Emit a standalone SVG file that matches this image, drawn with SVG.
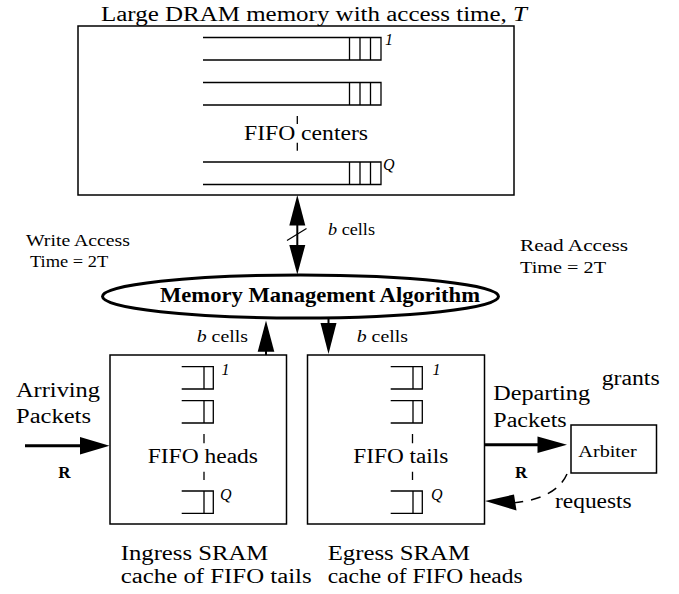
<svg xmlns="http://www.w3.org/2000/svg" width="679" height="594" viewBox="0 0 679 594" font-family="'Liberation Serif', 'Times New Roman', serif">
  <defs>
    <style>
      .box { fill: none; stroke: #000; stroke-width: 1.5; }
      .q { fill: none; stroke: #000; stroke-width: 1.3; }
      .thick { fill: none; stroke: #000; stroke-width: 3; }
      .shaft { fill: none; stroke: #000; stroke-width: 2; }
      .head { fill: #000; stroke: none; }
      .dash { fill: none; stroke: #000; stroke-width: 1.5; stroke-dasharray: 10 8; }
      .lbl { font-size: 20px; }
      .small { font-size: 16.5px; }
      .idx { font-size: 16px; font-style: italic; }
      .bold { font-weight: bold; }
    </style>
    <!-- long DRAM queue: open on the left, three cells at the head -->
    <path id="queue-long" class="q" d="M0,0H178V22.5H0 M146.5,0V22.5 M157,0V22.5 M167.5,0V22.5"/>
    <!-- short SRAM queue: one cell -->
    <path id="queue-short" class="q" d="M0,0H31.6V22.3H0 M22.3,0V22.3"/>
  </defs>

  <rect width="679" height="594" fill="#fff"/>

  <!-- DRAM -->
  <g id="dram">
    <text x="101" y="21" class="lbl" textLength="426" lengthAdjust="spacingAndGlyphs">Large DRAM memory with access time, <tspan font-style="italic">T</tspan></text>
    <rect x="78" y="26" width="436" height="169" class="box" stroke-width="1.4"/>
    <use href="#queue-long" x="203" y="37.5"/>
    <use href="#queue-long" x="203" y="82.5"/>
    <use href="#queue-long" x="203" y="162"/>
    <text x="385" y="45" class="idx">1</text>
    <text x="383" y="170" class="idx">Q</text>
    <path class="q" d="M297.3,116V124 M297.3,142.7V150.7"/>
    <text x="244" y="140" class="lbl" textLength="124" lengthAdjust="spacingAndGlyphs">FIFO centers</text>
  </g>

  <!-- Memory management algorithm -->
  <g id="mma">
    <ellipse cx="300.5" cy="296.5" rx="198" ry="21.5" class="thick"/>
    <text x="160" y="302" class="bold" font-size="22" textLength="320" lengthAdjust="spacingAndGlyphs">Memory Management Algorithm</text>
  </g>

  <!-- Ingress SRAM -->
  <g id="ingress">
    <rect x="110" y="355" width="176.5" height="169" class="box"/>
    <use href="#queue-short" x="181.7" y="366.7"/>
    <use href="#queue-short" x="181.7" y="400.7"/>
    <use href="#queue-short" x="181.7" y="491"/>
    <text x="221.5" y="375" class="idx">1</text>
    <text x="220" y="500" class="idx">Q</text>
    <path class="q" d="M204,434V443.3 M204,471.7V480"/>
    <text x="147.7" y="462.7" class="lbl" textLength="110.3" lengthAdjust="spacingAndGlyphs">FIFO heads</text>
    <text x="120.7" y="560" class="lbl" font-size="21" textLength="147.6" lengthAdjust="spacingAndGlyphs">Ingress SRAM</text>
    <text x="120.7" y="583.3" class="lbl" font-size="21" textLength="191" lengthAdjust="spacingAndGlyphs">cache of FIFO tails</text>
  </g>

  <!-- Egress SRAM -->
  <g id="egress">
    <rect x="307.5" y="355" width="177" height="169" class="box"/>
    <use href="#queue-short" x="390.7" y="366.7"/>
    <use href="#queue-short" x="390.7" y="400.7"/>
    <use href="#queue-short" x="390.7" y="491"/>
    <text x="432.5" y="375" class="idx">1</text>
    <text x="431" y="500" class="idx">Q</text>
    <path class="q" d="M412.5,434V443.3 M412.5,471.7V480"/>
    <text x="353.3" y="462.7" class="lbl" textLength="95" lengthAdjust="spacingAndGlyphs">FIFO tails</text>
    <text x="327.7" y="560" class="lbl" font-size="21" textLength="142.3" lengthAdjust="spacingAndGlyphs">Egress SRAM</text>
    <text x="327.7" y="583.3" class="lbl" font-size="21" textLength="195" lengthAdjust="spacingAndGlyphs">cache of FIFO heads</text>
  </g>

  <!-- Arbiter -->
  <g id="arbiter">
    <rect x="571" y="425" width="85.5" height="48" class="box"/>
    <text x="578.3" y="456.7" font-size="17" textLength="58.4" lengthAdjust="spacingAndGlyphs">Arbiter</text>
  </g>

  <!-- connectors -->
  <g id="connectors">
    <!-- DRAM <-> algorithm, b cells wide -->
    <path class="shaft" d="M297.3,220V250"/>
    <polygon class="head" points="297.3,195 289.3,225.5 305.3,225.5"/>
    <polygon class="head" points="297.3,274.5 289.3,245 305.3,245"/>
    <path class="q" d="M287,240.5L306.5,228.5"/>
    <!-- ingress -> algorithm -->
    <path class="shaft" d="M266,355V348"/>
    <polygon class="head" points="266,320.5 257.7,351.7 274.3,351.7"/>
    <!-- algorithm -> egress -->
    <path class="shaft" d="M328.5,318V326"/>
    <polygon class="head" points="328.5,354 320.5,323 336.5,323"/>
    <!-- arriving packets -->
    <path class="thick" d="M25,445.7H84"/>
    <polygon class="head" points="109.5,445.7 80,437 80,454.4"/>
    <!-- departing packets -->
    <path class="thick" d="M485,444.7H540"/>
    <polygon class="head" points="567,444.7 537.5,436.4 537.5,453"/>
    <!-- requests -->
    <path class="dash" d="M567,474 Q556,499 512,503"/>
    <polygon class="head" points="485,501 514,494.5 516.5,510.5"/>
  </g>

  <!-- free labels -->
  <g id="labels">
    <text x="328" y="235" class="small" textLength="47" lengthAdjust="spacingAndGlyphs"><tspan font-style="italic">b</tspan> cells</text>
    <text x="196.7" y="341.7" class="small" textLength="51.3" lengthAdjust="spacingAndGlyphs"><tspan font-style="italic">b</tspan> cells</text>
    <text x="356.7" y="341.7" class="small" textLength="51.3" lengthAdjust="spacingAndGlyphs"><tspan font-style="italic">b</tspan> cells</text>
    <text x="26" y="246" class="small" textLength="104" lengthAdjust="spacingAndGlyphs">Write Access</text>
    <text x="30" y="266.7" class="small" textLength="78.3" lengthAdjust="spacingAndGlyphs">Time = 2T</text>
    <text x="520" y="251" font-size="17" textLength="108" lengthAdjust="spacingAndGlyphs">Read Access</text>
    <text x="520" y="273" font-size="17" textLength="86" lengthAdjust="spacingAndGlyphs">Time = 2T</text>
    <text x="16" y="397.3" class="lbl" textLength="84" lengthAdjust="spacingAndGlyphs">Arriving</text>
    <text x="16" y="422.7" class="lbl" textLength="75" lengthAdjust="spacingAndGlyphs">Packets</text>
    <text x="58.3" y="478.3" class="bold" font-size="17">R</text>
    <text x="493.3" y="400" class="lbl" textLength="96.7" lengthAdjust="spacingAndGlyphs">Departing</text>
    <text x="493.3" y="426.7" class="lbl" textLength="73.4" lengthAdjust="spacingAndGlyphs">Packets</text>
    <text x="601.7" y="385" class="lbl" font-size="19" textLength="58" lengthAdjust="spacingAndGlyphs">grants</text>
    <text x="515" y="478.3" class="bold" font-size="17">R</text>
    <text x="555" y="508.3" class="lbl" font-size="19.5" textLength="76.7" lengthAdjust="spacingAndGlyphs">requests</text>
  </g>
</svg>
